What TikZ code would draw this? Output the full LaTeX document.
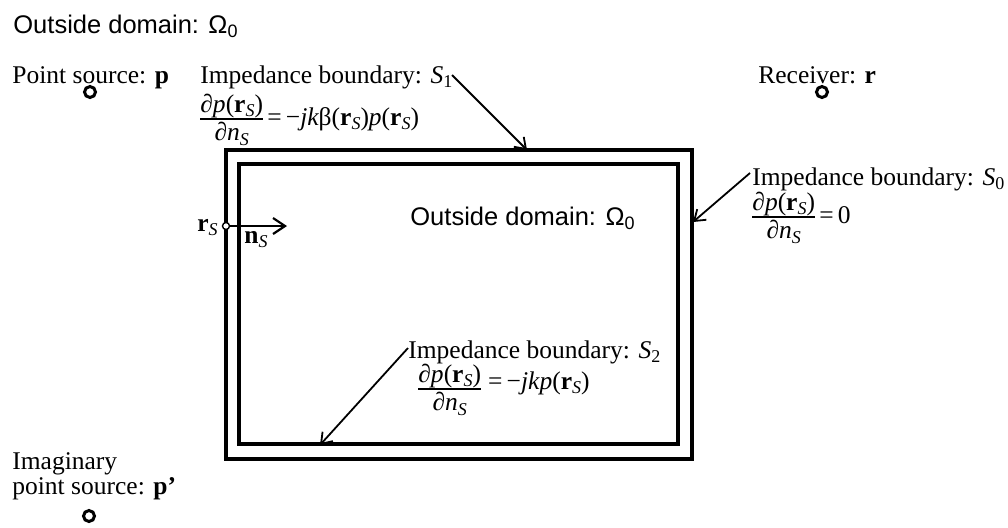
\documentclass[tikz,border=0pt]{standalone}
\usepackage{fontspec}
\setmainfont{Liberation Serif}
\setsansfont{Liberation Sans}
\usetikzlibrary{arrows.meta}
\newcommand{\mysub}[1]{\raisebox{-0.17em}{\fontsize{9}{10}\selectfont #1}}
\newcommand{\rS}{\textbf{r}\mysub{\itshape S}}
\newcommand{\myfrac}[2]{\setbox0\hbox{#1}\setbox2\hbox{#2}%
  \dimen0=\wd0 \ifdim\wd2>\dimen0 \dimen0=\wd2\fi
  \raisebox{2.75pt}{\vtop{\offinterlineskip\vbox{\hbox to\dimen0{\hss\box0\hss}\kern0.3pt
  \hrule height0.9pt width\dimen0}\kern1.2pt\hbox to\dimen0{\hss\box2\hss}}}}
\newcommand{\dpr}{{\itshape ∂p}(\rS)}
\newcommand{\dn}{{\itshape ∂n}\mysub{\itshape S}}
\begin{document}
\begin{tikzpicture}[x=0.5pt,y=-0.5pt,
  txt/.style={inner sep=0pt, font=\fontsize{12.75}{15}\selectfont},
  sans/.style={inner sep=0pt, font=\sffamily\fontsize{12.75}{15}\selectfont},
  wall/.style={line width=2.2pt},
  lead/.style={line width=0.9pt, -{Straight Barb[length=5pt,width=7pt]}},
  src/.style={circle, draw, line width=1.5pt, fill=white, minimum size=5.5pt, inner sep=0pt},
  rsdot/.style={circle, draw, line width=0.7pt, fill=white, minimum size=3.5pt, inner sep=0pt}]
\useasboundingbox (0,0) rectangle (1008,527);

% walls
\draw[wall] (226,150) rectangle (692,459);
\draw[wall] (239,164) rectangle (678,444);

% titles
\node[sans, anchor=base west] (outtop) at (13,33) {Outside domain: Ω\mysub{0}};
\node[sans, anchor=base west] (outin) at (410,225) {Outside domain: Ω\mysub{0}};

% sources
\node[txt, anchor=base west] (pslab) at (12,83) {Point source: \textbf{p}};
\node[src] (ps) at (90,92) {};
\node[txt, anchor=base west] (rclab) at (758,83) {Receiver: \textbf{r}};
\node[src] (rc) at (822,92) {};
\node[txt, anchor=base west, align=left, font=\fontsize{12.75}{11}\selectfont] (imlab) at (12,494) {Imaginary\\point source: \textbf{p\char"0027}};
\node[src] (im) at (89,516) {};

% S1
\node[txt, anchor=base west] (s1lab) at (200,83) {Impedance boundary: {\itshape S}\mysub{1}};
\node[txt, anchor=base west] (s1eq) at (200,125.5) {\myfrac{\dpr}{\dn}\,=\,−{\itshape jk}β(\rS){\itshape p}(\rS)};
\coordinate (s1tip) at (527,150);
\draw[lead] (452,75) -- (s1tip);

% S0
\node[txt, anchor=base west] (s0lab) at (752,185) {Impedance boundary: {\itshape S}\mysub{0}};
\node[txt, anchor=base west] (s0eq) at (752,223.5) {\myfrac{\dpr}{\dn}\,=\,0};
\coordinate (s0tip) at (693,222);
\draw[lead] (750,173) -- (s0tip);

% S2
\node[txt, anchor=base west] (s2lab) at (408,358) {Impedance boundary: {\itshape S}\mysub{2}};
\node[txt, anchor=base west] (s2eq) at (418,395.5) {\myfrac{\dpr}{\dn}\;\raisebox{3pt}{=\,−{\itshape jkp}(\rS)}};
\coordinate (s2tip) at (320,445);
\draw[lead] (408,348) -- (s2tip);

% surface point and normal
\node[rsdot] (rs) at (226,226) {};
\node[txt, anchor=base east] (rslab) at (218,231) {\rS};
\coordinate (nstip) at (287,226);
\draw[line width=1.1pt, -{Straight Barb[length=6pt,width=8pt]}] (rs.east) -- (nstip);
\node[txt, anchor=base west] (nslab) at (244,243) {\textbf{n}\mysub{\itshape S}};
\end{tikzpicture}
\end{document}
